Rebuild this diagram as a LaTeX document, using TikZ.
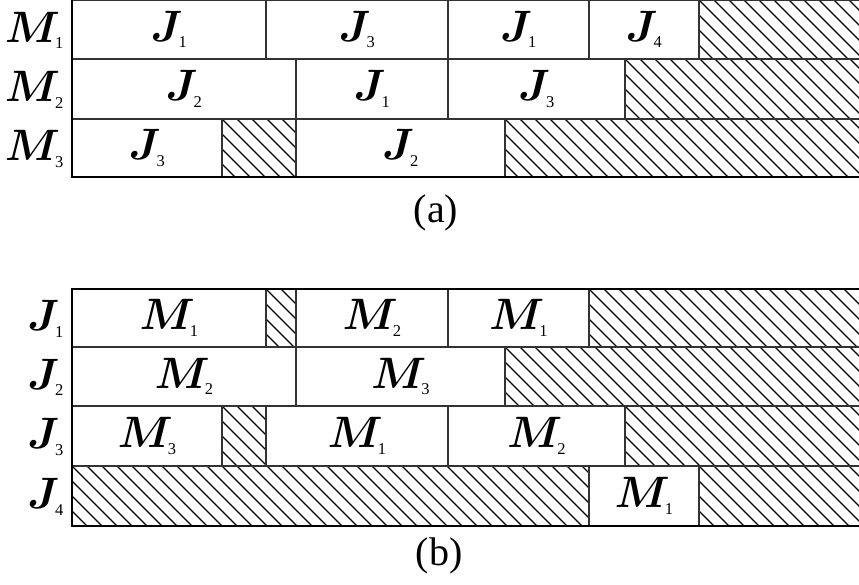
\RequirePackage{fix-cm}
\documentclass[tikz,border=0pt]{standalone}
\usepackage{bm}
\usepackage{fontspec}
\setmainfont{Liberation Serif}
\newcommand{\lbl}[2]{$\bm{#1}_{\hbox{\fontsize{16.5}{17}\selectfont #2}}$}
\tikzset{
  cellline/.style={draw=black!80, line width=1.2pt},
  hatchline/.style={draw=black, line width=1.1pt},
  thickline/.style={draw=black, line width=2.4pt},
  lab/.style={inner sep=0pt, font=\fontsize{44}{50}\selectfont},
  captext/.style={inner sep=0pt, font=\fontsize{40}{44}\selectfont}
}
% hatched box: x1, ytop, x2, ybottom
\newcommand{\hbx}[4]{%
  \begin{scope}
    \clip (#1,#2) rectangle (#3,#4);
    \foreach \k in {-6,...,40} \draw[hatchline] ({#1+15*\k},#2) -- ++(90,90);
  \end{scope}
  \draw[cellline] (#1,#2) rectangle (#3,#4);}
% plain cell: x1, ytop, x2, ybottom, name, text
\newcommand{\cbx}[6]{%
  \draw[cellline] (#1,#2) rectangle (#3,#4);
  \node[lab] (#5) at ({(#1+#3)/2},{(#2+#4)/2}) {#6};}
\begin{document}
\begin{tikzpicture}[x=1pt,y=-1pt]
\useasboundingbox (0,0) rectangle (859,585);
% ---------- (a) ----------
\cbx{72}{0}{266}{59}{a11}{\lbl{J}{1}}
\cbx{266}{0}{448}{59}{a12}{\lbl{J}{3}}
\cbx{448}{0}{589}{59}{a13}{\lbl{J}{1}}
\cbx{589}{0}{699}{59}{a14}{\lbl{J}{4}}
\hbx{699}{0}{862}{59}
\cbx{72}{59}{296}{119}{a21}{\lbl{J}{2}}
\cbx{296}{59}{448}{119}{a22}{\lbl{J}{1}}
\cbx{448}{59}{625}{119}{a23}{\lbl{J}{3}}
\hbx{625}{59}{862}{119}
\cbx{72}{119}{222}{177}{a31}{\lbl{J}{3}}
\hbx{222}{119}{296}{177}
\cbx{296}{119}{505}{177}{a32}{\lbl{J}{2}}
\hbx{505}{119}{862}{177}
\draw[cellline] (72,0.6) -- (859,0.6);
\draw[thickline] (72,0) -- (72,177);
\draw[thickline] (71,177) -- (859,177);
\node[lab, anchor=east] (m1) at (64,30.5) {\lbl{M}{1}};
\node[lab, anchor=east] (m2) at (64,90) {\lbl{M}{2}};
\node[lab, anchor=east] (m3) at (64,149) {\lbl{M}{3}};
\node[captext] (capa) at (436,213) {(a)};
% ---------- (b) ----------
\cbx{72}{289}{266}{347}{b11}{\lbl{M}{1}}
\hbx{266}{289}{296}{347}
\cbx{296}{289}{448}{347}{b12}{\lbl{M}{2}}
\cbx{448}{289}{589}{347}{b13}{\lbl{M}{1}}
\hbx{589}{289}{862}{347}
\cbx{72}{347}{296}{406}{b21}{\lbl{M}{2}}
\cbx{296}{347}{505}{406}{b22}{\lbl{M}{3}}
\hbx{505}{347}{862}{406}
\cbx{72}{406}{222}{466}{b31}{\lbl{M}{3}}
\hbx{222}{406}{266}{466}
\cbx{266}{406}{448}{466}{b32}{\lbl{M}{1}}
\cbx{448}{406}{625}{466}{b33}{\lbl{M}{2}}
\hbx{625}{406}{862}{466}
\hbx{72}{466}{589}{526}
\cbx{589}{466}{699}{526}{b41}{\lbl{M}{1}}
\hbx{699}{466}{862}{526}
\draw[thickline] (71,289) -- (859,289);
\draw[thickline] (72,289) -- (72,526);
\draw[thickline] (71,526) -- (859,526);
\node[lab, anchor=east] (j1) at (64,319) {\lbl{J}{1}};
\node[lab, anchor=east] (j2) at (64,377.5) {\lbl{J}{2}};
\node[lab, anchor=east] (j3) at (64,437) {\lbl{J}{3}};
\node[lab, anchor=east] (j4) at (64,497) {\lbl{J}{4}};
\node[captext] (capb) at (439,556) {(b)};
\end{tikzpicture}
\end{document}
